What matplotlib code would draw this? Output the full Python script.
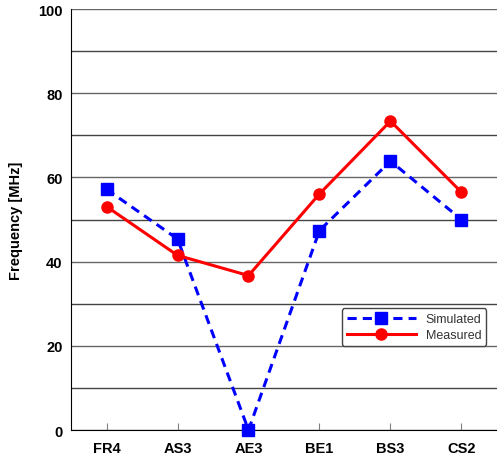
import matplotlib
matplotlib.use('Agg')
import matplotlib.pyplot as plt

categorias = ['FR4', 'AS3', 'AE3', 'BE1', 'BS3', 'CS2']
simulado = [57.2, 45.4, 0.0, 47.4, 63.9, 50.0]
medido = [53.1, 41.5, 36.7, 56.1, 73.4, 56.5]

plt.rcParams['font.family'] = ['Liberation Sans', 'DejaVu Sans']

fig = plt.figure(figsize=(4.97, 4.60), dpi=100)
ax = fig.add_axes([0.1429, 0.063, 0.857, 0.915])

x = list(range(len(categorias)))
ax.plot(x, simulado, '--', color='blue', lw=2.2, marker='s', ms=8, dashes=(3, 2),
        label='Simulated', clip_on=False, zorder=3)
ax.plot(x, medido, '-', color='red', lw=2.2, marker='o', ms=8,
        label='Measured', clip_on=False, zorder=3)

ax.set_xlim(-0.5, 5.5)
ax.set_ylim(0, 100)
ax.set_xticks(x)
ax.set_xticklabels(categorias, fontweight='bold', fontsize=10.5)
ax.set_yticks([0, 20, 40, 60, 80, 100])
ax.set_yticks(range(10, 100, 20), minor=True)
ax.tick_params(axis='y', which='both', length=0, labelsize=10.5, pad=6)
ax.tick_params(axis='x', direction='in', length=5, color='gray', pad=8)
for lbl in ax.get_yticklabels():
    lbl.set_fontweight('bold')
ax.grid(True, axis='y', which='major', color='#666666', lw=1)
ax.grid(True, axis='y', which='minor', color='#444444', lw=1)
ax.set_axisbelow(True)
ax.spines['top'].set_visible(False)
ax.spines['right'].set_visible(False)
ax.set_ylabel('Frequency [MHz]', fontweight='bold', fontsize=10.5, labelpad=11)

leg = ax.legend(loc='lower right', bbox_to_anchor=(0.99, 0.185), fontsize=9,
                fancybox=True, framealpha=1, edgecolor='#444444', handlelength=5.5,
                borderpad=0.4, labelspacing=0.3)
for t in leg.get_texts():
    t.set_color('#333333')

plt.savefig('out.png', dpi=100)
